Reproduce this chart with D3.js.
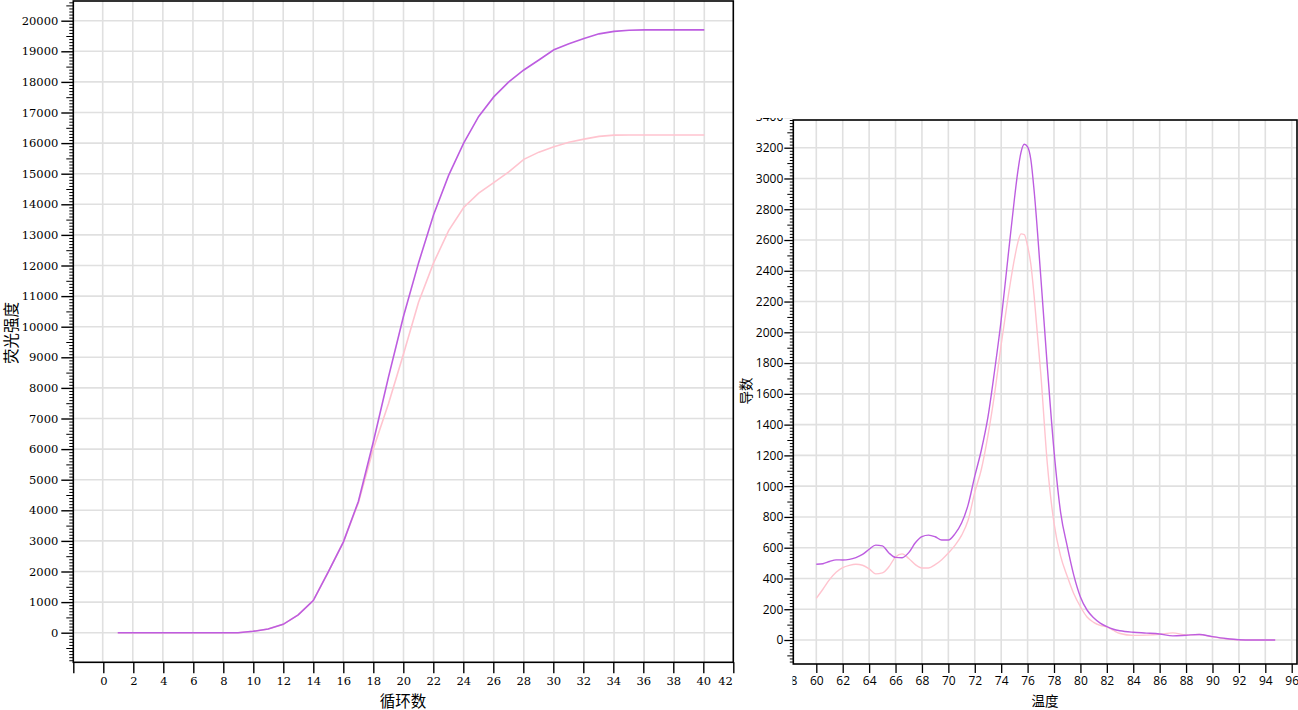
<!DOCTYPE html>
<html>
<head>
<meta charset="utf-8">
<script src="https://cdn.jsdelivr.net/npm/d3@7/dist/d3.min.js"></script>
<style>
  html, body { margin: 0; padding: 0; background: #fff; }
  svg { display: block; }
</style>
</head>
<body>
<svg id="chart" width="1298" height="710"></svg>
<script>
// ---------------- DATA ----------------
// Amplification curve (left)
const cycles = [1,2,3,4,5,6,7,8,9,10,11,12,13,14,15,16,17,18,19,20,21,22,23,24,25,26,27,28,29,30,31,32,33,34,35,36,37,38,39,40];
const ampPurple = [0,0,0,0,0,0,0,0,0,45,120,274,580,1050,1990,2960,4290,6250,8350,10340,12085,13660,14945,16000,16870,17510,18000,18390,18715,19050,19250,19420,19570,19650,19690,19700,19700,19700,19700,19700];
const ampPink   = [0,0,0,0,0,0,0,0,0,45,120,274,580,1050,1990,2960,4250,6020,7480,9110,10800,12085,13140,13895,14365,14710,15060,15470,15705,15880,16030,16130,16220,16260,16265,16265,16265,16265,16265,16265];
const ampXTicks = [-2,0,2,4,6,8,10,12,14,16,18,20,22,24,26,28,30,32,34,36,38,40,42];
const ampYTicks = [0,1000,2000,3000,4000,5000,6000,7000,8000,9000,10000,11000,12000,13000,14000,15000,16000,17000,18000,19000,20000];

// Melt curve derivative (right)
const meltTemps  = [60,60.5,61,61.5,62,62.5,63,63.5,64,64.5,65,65.5,66,66.5,67,67.5,68,68.5,69,69.5,70,70.5,71,71.5,72,72.5,73,73.5,74,74.5,75,75.25,75.5,75.75,76,76.25,76.5,77,77.5,78,78.5,79,79.5,80,80.5,81,81.5,82,82.5,83,84,85,86,87,88,89,90,91,92,93,94,94.75];
const meltPurple = [492,496,510,521,520,524,536,556,590,617,612,566,537,535,568,632,672,682,671,650,650,690,760,880,1065,1235,1450,1750,2080,2475,2865,3040,3170,3222,3205,3120,2915,2360,1770,1230,830,610,420,280,195,145,110,87,70,60,50,45,39,27,31,36,22,10,2,0,0,0];
const meltPink   = [271,330,392,440,470,485,492,486,462,430,436,476,540,560,530,490,468,468,490,522,565,615,680,780,960,1110,1330,1600,1920,2215,2475,2580,2640,2635,2560,2440,2230,1730,1140,760,545,415,300,216,150,115,95,85,62,42,30,32,37,46,33,36,20,8,1,0,0,0];
const meltXTicks = [58,60,62,64,66,68,70,72,74,76,78,80,82,84,86,88,90,92,94,96];
const meltYTicks = [0,200,400,600,800,1000,1200,1400,1600,1800,2000,2200,2400,2600,2800,3000,3200,3400];

const colPurple = "#bd5de0";
const colPink = "#ffc4cf";
const gridCol = "#e0e0e0";

const svg = d3.select("#chart");

// ---------------- LEFT CHART ----------------
const L = {left: 73.3, right: 733.3, top: 1, bottom: 662.3};
const xL = d3.scaleLinear().domain([0, 40]).range([102.7, 704.3]);
const yL = d3.scaleLinear().domain([0, 20000]).range([632.7, 20.7]);

const gL = svg.append("g");
svg.append("clipPath").attr("id", "clipL").append("rect")
  .attr("x", L.left).attr("y", L.top).attr("width", L.right - L.left).attr("height", L.bottom - L.top);

const gridL = gL.append("g").attr("clip-path", "url(#clipL)");
gridL.selectAll(".vg").data(ampXTicks.filter(d => d >= 0 && d <= 40)).enter().append("line")
  .attr("x1", d => xL(d)).attr("x2", d => xL(d)).attr("y1", L.top).attr("y2", L.bottom)
  .attr("stroke", gridCol).attr("stroke-width", 1.6);
gridL.selectAll(".hg").data(ampYTicks).enter().append("line")
  .attr("y1", d => yL(d)).attr("y2", d => yL(d)).attr("x1", L.left).attr("x2", L.right)
  .attr("stroke", gridCol).attr("stroke-width", 1.6);

const lineL = (vals) => d3.line().x((d, i) => xL(cycles[i])).y(d => yL(d))(vals);
gridL.append("path").attr("d", lineL(ampPink)).attr("fill", "none").attr("stroke", colPink).attr("stroke-width", 1.6);
gridL.append("path").attr("d", lineL(ampPurple)).attr("fill", "none").attr("stroke", colPurple).attr("stroke-width", 1.6);

gL.append("rect").attr("x", L.left).attr("y", L.top).attr("width", L.right - L.left).attr("height", L.bottom - L.top)
  .attr("fill", "none").attr("stroke", "#000").attr("stroke-width", 1.6);

const fontL = "'DejaVu Serif', serif";
const yAxL = gL.append("g").attr("transform", `translate(${L.left},0)`)
  .call(d3.axisLeft(yL).tickValues(ampYTicks).tickSize(12).tickPadding(3).tickFormat(d3.format("d")));
yAxL.select(".domain").remove();
yAxL.selectAll("line").attr("stroke", "#000").attr("stroke-width", 1.4);
yAxL.selectAll("text").attr("font-family", fontL).attr("font-size", 11.5).attr("fill", "#000");
const minorL = d3.range(-900, 20700, 100).filter(d => d % 1000 !== 0);
const yMinL = gL.append("g").attr("transform", `translate(${L.left},0)`)
  .call(d3.axisLeft(yL).tickValues(minorL).tickSize(4).tickFormat(""));
yMinL.select(".domain").remove();
yMinL.selectAll(".tick line").attr("stroke", "#000").attr("stroke-width", 1)
  .attr("x2", d => (d % 500 === 0 ? -7 : -4));

const xAxL = gL.append("g").attr("transform", `translate(0,${L.bottom})`)
  .call(d3.axisBottom(d3.scaleLinear().domain([-2, 42]).range([L.left, L.right])).tickValues(ampXTicks).tickSize(11).tickPadding(4)
    .tickFormat(d => d < 0 ? "" : d));
xAxL.select(".domain").remove();
xAxL.selectAll("line").attr("stroke", "#000").attr("stroke-width", 1.4);
xAxL.selectAll("text").attr("font-family", fontL).attr("font-size", 11.5).attr("fill", "#000");
xAxL.selectAll(".tick").filter(d => d === 42).select("text").attr("text-anchor", "end").attr("x", -1);

const cjk = "'Noto Sans CJK SC', 'Noto Sans', sans-serif";
svg.append("text").attr("transform", "translate(17,333) rotate(-90)").attr("text-anchor", "middle")
  .attr("font-family", cjk).attr("font-size", 15.5).attr("fill", "#000").text("荧光强度");
svg.append("text").attr("x", 403).attr("y", 707).attr("text-anchor", "middle")
  .attr("font-family", cjk).attr("font-size", 15.5).attr("fill", "#000").text("循环数");

// ---------------- RIGHT CHART ----------------
const R = {left: 793.3, right: 1297, top: 120, bottom: 664};
const xR = d3.scaleLinear().domain([60, 94]).range([816.3, 1265.3]);
const yR = d3.scaleLinear().domain([0, 3200]).range([640, 147.7]);

const gR = svg.append("g");
svg.append("clipPath").attr("id", "clipR").append("rect")
  .attr("x", R.left).attr("y", R.top).attr("width", R.right - R.left).attr("height", R.bottom - R.top);
svg.append("clipPath").attr("id", "clipRyl").append("rect")
  .attr("x", 740).attr("y", 118).attr("width", 60).attr("height", 560);
svg.append("clipPath").attr("id", "clipRxl").append("rect")
  .attr("x", 792.5).attr("y", 660).attr("width", 520).attr("height", 40);

const gridR = gR.append("g").attr("clip-path", "url(#clipR)");
gridR.selectAll(".vg").data(meltXTicks).enter().append("line")
  .attr("x1", d => xR(d)).attr("x2", d => xR(d)).attr("y1", R.top).attr("y2", R.bottom)
  .attr("stroke", gridCol).attr("stroke-width", 1.6);
gridR.selectAll(".hg").data(meltYTicks).enter().append("line")
  .attr("y1", d => yR(d)).attr("y2", d => yR(d)).attr("x1", R.left).attr("x2", R.right)
  .attr("stroke", gridCol).attr("stroke-width", 1.6);

const lineR = (vals) => d3.line().curve(d3.curveMonotoneX).x((d, i) => xR(meltTemps[i])).y(d => yR(d))(vals);
gridR.append("path").attr("d", lineR(meltPink)).attr("fill", "none").attr("stroke", colPink).attr("stroke-width", 1.4);
gridR.append("path").attr("d", lineR(meltPurple)).attr("fill", "none").attr("stroke", colPurple).attr("stroke-width", 1.4);

gR.append("rect").attr("x", R.left).attr("y", R.top).attr("width", R.right - R.left).attr("height", R.bottom - R.top)
  .attr("fill", "none").attr("stroke", "#000").attr("stroke-width", 1.6);

const fontR = "'Open Sans', 'Noto Sans', sans-serif";
const yAxR = gR.append("g").attr("clip-path", "url(#clipRyl)")
  .append("g").attr("transform", `translate(${R.left},0)`)
  .call(d3.axisLeft(yR).tickValues(meltYTicks).tickSize(9).tickPadding(1).tickFormat(d3.format("d")));
yAxR.select(".domain").remove();
yAxR.selectAll("line").attr("stroke", "#000").attr("stroke-width", 1.3);
yAxR.selectAll("text").attr("font-family", fontR).attr("font-size", 12).attr("fill", "#000");
const minorR = d3.range(-140, 3400, 20).filter(d => d % 200 !== 0);
const yMinR = gR.append("g").attr("clip-path", "url(#clipRyl)")
  .append("g").attr("transform", `translate(${R.left},0)`)
  .call(d3.axisLeft(yR).tickValues(minorR).tickSize(4).tickFormat(""));
yMinR.select(".domain").remove();
yMinR.selectAll(".tick line").attr("stroke", "#000").attr("stroke-width", 1)
  .attr("x2", d => (d % 100 === 0 ? -6 : -3.5));

const xAxR = gR.append("g").attr("clip-path", "url(#clipRxl)")
  .append("g").attr("transform", `translate(0,${R.bottom})`)
  .call(d3.axisBottom(xR).tickValues(meltXTicks).tickSize(9).tickPadding(3).tickFormat(d3.format("d")));
xAxR.select(".domain").remove();
xAxR.selectAll("line").attr("stroke", "#000").attr("stroke-width", 1.3)
  .attr("visibility", d => xR(d) < R.left ? "hidden" : null);
xAxR.selectAll("text").attr("font-family", fontR).attr("font-size", 12).attr("fill", "#000");

svg.append("text").attr("transform", "translate(751,391) rotate(-90)").attr("text-anchor", "middle")
  .attr("font-family", cjk).attr("font-size", 13.5).attr("fill", "#000").text("导数");
svg.append("text").attr("x", 1045).attr("y", 706).attr("text-anchor", "middle")
  .attr("font-family", cjk).attr("font-size", 13.5).attr("fill", "#000").text("温度");
</script>
</body>
</html>
